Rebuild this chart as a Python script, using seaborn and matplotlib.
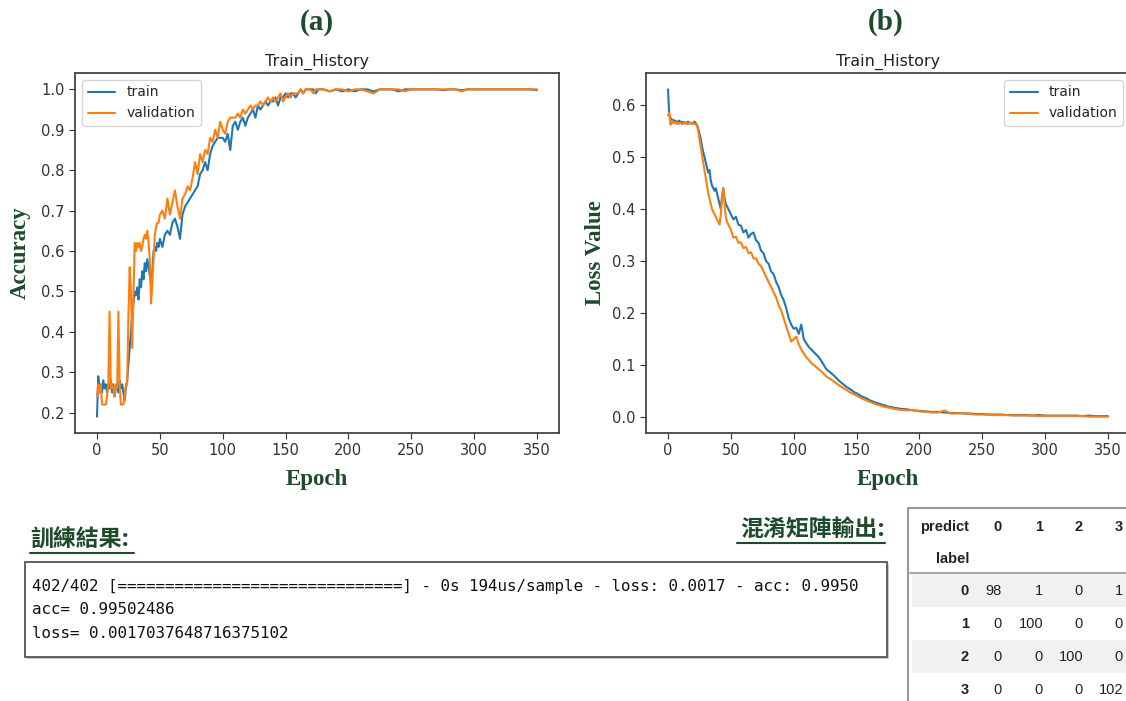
import matplotlib
matplotlib.use("Agg")
import matplotlib.pyplot as plt
import seaborn as sns
from matplotlib.patches import Rectangle
from matplotlib.lines import Line2D

# epochs sampled: every epoch up to 49, every 2 up to 178, every 5 after
epochs = list(range(0, 50)) + list(range(50, 180, 2)) + list(range(180, 351, 5))

acc_train = [
    0.19, 0.29, 0.25, 0.27, 0.25, 0.28, 0.26, 0.27, 0.25, 0.27,
    0.26, 0.28, 0.25, 0.27, 0.24, 0.26, 0.27, 0.25, 0.28, 0.26,
    0.27, 0.25, 0.23, 0.26, 0.28, 0.32, 0.36, 0.40, 0.44, 0.47,
    0.50, 0.49, 0.51, 0.48, 0.53, 0.51, 0.55, 0.53, 0.57, 0.55,
    0.58, 0.56, 0.54, 0.52, 0.55, 0.60, 0.61, 0.60, 0.62, 0.61,
    # 50..178 step 2
    0.63, 0.61, 0.64, 0.65, 0.64, 0.67, 0.68, 0.66, 0.63, 0.69,
    0.71, 0.72, 0.73, 0.74, 0.75, 0.76, 0.79, 0.80, 0.82, 0.80,
    0.84, 0.86, 0.87, 0.88, 0.88, 0.88, 0.87, 0.89, 0.85, 0.91,
    0.92, 0.90, 0.92, 0.93, 0.91, 0.93, 0.94, 0.95, 0.93, 0.96,
    0.95, 0.96, 0.97, 0.96, 0.97, 0.97, 0.98, 0.96, 0.98, 0.98,
    0.99, 0.98, 0.99, 0.99, 0.98, 0.99, 1.00, 0.99, 1.00, 1.00,
    1.00, 1.00, 0.99, 1.00, 1.00,
    # 180..350 step 5
    1.00, 0.995, 1.00, 0.995, 1.00, 0.995, 1.00, 1.00, 0.995, 1.00,
    1.00, 1.00, 0.995, 1.00, 1.00, 1.00, 1.00, 1.00, 1.00, 0.998,
    1.00, 1.00, 0.998, 1.00, 1.00, 1.00, 1.00, 1.00, 1.00, 1.00,
    1.00, 1.00, 1.00, 1.00, 0.998,
]

acc_val = [
    0.24, 0.27, 0.25, 0.27, 0.22, 0.22, 0.22, 0.22, 0.24, 0.27,
    0.45, 0.26, 0.27, 0.26, 0.24, 0.27, 0.26, 0.45, 0.27, 0.22,
    0.22, 0.22, 0.24, 0.27, 0.27, 0.44, 0.56, 0.50, 0.36, 0.49,
    0.62, 0.60, 0.62, 0.61, 0.62, 0.60, 0.61, 0.63, 0.64, 0.63,
    0.65, 0.62, 0.58, 0.47, 0.52, 0.58, 0.64, 0.66, 0.67, 0.67,
    0.69, 0.70, 0.68, 0.73, 0.69, 0.72, 0.75, 0.71, 0.68, 0.73,
    0.74, 0.76, 0.75, 0.78, 0.82, 0.79, 0.84, 0.82, 0.85, 0.84,
    0.88, 0.87, 0.90, 0.88, 0.92, 0.90, 0.89, 0.92, 0.93, 0.93,
    0.93, 0.94, 0.93, 0.95, 0.94, 0.95, 0.96, 0.95, 0.96, 0.96,
    0.97, 0.96, 0.97, 0.98, 0.97, 0.98, 0.97, 0.98, 0.99, 0.97,
    0.98, 0.99, 0.98, 0.99, 0.99, 0.99, 1.00, 0.99, 1.00, 1.00,
    1.00, 0.99, 1.00, 1.00, 1.00,
    1.00, 0.995, 1.00, 1.00, 0.995, 1.00, 1.00, 0.995, 0.99, 1.00,
    1.00, 1.00, 1.00, 0.995, 1.00, 1.00, 1.00, 1.00, 1.00, 1.00,
    1.00, 1.00, 0.995, 1.00, 1.00, 1.00, 1.00, 1.00, 1.00, 1.00,
    1.00, 1.00, 1.00, 1.00, 1.00,
]

loss_train = [
    0.63, 0.58, 0.575, 0.57, 0.572, 0.568, 0.57, 0.566, 0.568, 0.57,
    0.566, 0.568, 0.565, 0.567, 0.565, 0.566, 0.568, 0.564, 0.566, 0.564,
    0.565, 0.568, 0.565, 0.562, 0.555, 0.545, 0.535, 0.52, 0.51, 0.50,
    0.49, 0.48, 0.47, 0.475, 0.455, 0.445, 0.44, 0.435, 0.44, 0.43,
    0.42, 0.41, 0.40, 0.425, 0.44, 0.42, 0.41, 0.405, 0.40, 0.395,
    0.39, 0.38, 0.385, 0.37, 0.368, 0.355, 0.36, 0.345, 0.352, 0.355,
    0.34, 0.335, 0.32, 0.315, 0.30, 0.295, 0.28, 0.275, 0.26, 0.25,
    0.235, 0.225, 0.21, 0.19, 0.178, 0.17, 0.172, 0.16, 0.178, 0.15,
    0.142, 0.135, 0.13, 0.125, 0.12, 0.115, 0.108, 0.10, 0.092, 0.088,
    0.084, 0.08, 0.075, 0.07, 0.066, 0.062, 0.058, 0.055, 0.052, 0.048,
    0.046, 0.043, 0.04, 0.038, 0.036, 0.033, 0.031, 0.029, 0.027, 0.026,
    0.024, 0.023, 0.021, 0.02, 0.019,
    0.018, 0.016, 0.015, 0.013, 0.012, 0.011, 0.01, 0.01, 0.009, 0.008,
    0.008, 0.007, 0.007, 0.006, 0.006, 0.005, 0.005, 0.005, 0.004, 0.004,
    0.004, 0.004, 0.003, 0.004, 0.003, 0.003, 0.003, 0.003, 0.003, 0.003,
    0.002, 0.003, 0.002, 0.002, 0.002,
]

loss_val = [
    0.58, 0.585, 0.562, 0.57, 0.565, 0.568, 0.564, 0.566, 0.563, 0.565,
    0.566, 0.563, 0.565, 0.564, 0.566, 0.563, 0.565, 0.564, 0.566, 0.563,
    0.565, 0.564, 0.563, 0.56, 0.55, 0.535, 0.52, 0.505, 0.49, 0.475,
    0.46, 0.445, 0.43, 0.42, 0.41, 0.40, 0.395, 0.39, 0.385, 0.38,
    0.375, 0.37, 0.39, 0.42, 0.44, 0.41, 0.385, 0.375, 0.37, 0.365,
    0.36, 0.345, 0.347, 0.335, 0.336, 0.325, 0.327, 0.315, 0.317, 0.305,
    0.305, 0.295, 0.29, 0.28, 0.27, 0.26, 0.25, 0.24, 0.23, 0.215,
    0.205, 0.19, 0.175, 0.16, 0.145, 0.15, 0.155, 0.14, 0.13, 0.122,
    0.115, 0.11, 0.104, 0.10, 0.096, 0.092, 0.088, 0.083, 0.078, 0.075,
    0.072, 0.068, 0.065, 0.061, 0.058, 0.055, 0.052, 0.049, 0.046, 0.044,
    0.041, 0.039, 0.036, 0.034, 0.032, 0.03, 0.028, 0.026, 0.024, 0.023,
    0.021, 0.02, 0.019, 0.018, 0.017,
    0.016, 0.014, 0.013, 0.014, 0.011, 0.010, 0.009, 0.009, 0.013, 0.007,
    0.007, 0.008, 0.006, 0.005, 0.005, 0.005, 0.004, 0.004, 0.004, 0.003,
    0.003, 0.003, 0.003, 0.002, 0.002, 0.002, 0.002, 0.002, 0.002, 0.002,
    0.002, 0.001, 0.001, 0.001, 0.001,
]

console_lines = [
    "402/402 [==============================] - 0s 194us/sample - loss: 0.0017 - acc: 0.9950",
    "acc= 0.99502486",
    "loss= 0.0017037648716375102",
]

cm_labels = ["0", "1", "2", "3"]
cm_values = [
    [98, 1, 0, 1],
    [0, 100, 0, 0],
    [0, 0, 100, 0],
    [0, 0, 0, 102],
]

GREEN = "#1d4b2c"
BLUE = "#1f77b4"
ORANGE = "#ff7f0e"

sns.set_style("ticks")
plt.rcParams["font.family"] = ["DejaVu Sans", "Noto Sans CJK TC"]

W, H = 1126, 701
fig = plt.figure(figsize=(W / 100, H / 100), dpi=100)


def fx(x):
    return x / W


def fy(y):
    return 1 - y / H


serif = dict(family="Liberation Serif", weight="bold", color=GREEN, fontsize=16.5)

ax_a = fig.add_axes([fx(75), fy(433), 484 / W, 360 / H])
ax_b = fig.add_axes([fx(646), fy(433), 484 / W, 360 / H])

sns.lineplot(x=epochs, y=acc_train, ax=ax_a, color=BLUE, lw=1.5, label="train")
sns.lineplot(x=epochs, y=acc_val, ax=ax_a, color=ORANGE, lw=1.5, label="validation")
sns.lineplot(x=epochs, y=loss_train, ax=ax_b, color=BLUE, lw=1.5, label="train")
sns.lineplot(x=epochs, y=loss_val, ax=ax_b, color=ORANGE, lw=1.5, label="validation")

for ax, ylab, loc, ylx in [(ax_a, "Accuracy", "upper left", -0.113),
                           (ax_b, "Loss Value", "upper right", -0.105)]:
    ax.set_xticks([0, 50, 100, 150, 200, 250, 300, 350])
    ax.tick_params(labelsize=10.5, colors="#333333", length=4)
    for s in ax.spines.values():
        s.set_color("#444444")
        s.set_linewidth(1.3)
    ax.set_title("Train_History", fontsize=11.5, color="#222222", pad=5)
    ax.set_ylabel(ylab, va="center", **serif)
    ax.yaxis.set_label_coords(ylx, 0.5)
    ax.set_xlabel("Epoch", va="center", **serif)
    ax.xaxis.set_label_coords(0.5, -0.13)
    ax.legend(loc=loc, fontsize=10, frameon=True, framealpha=0.8,
              edgecolor="#cccccc", handlelength=2.0)

fig.text(fx(317), fy(22), "(a)", ha="center", va="center",
         family="Liberation Serif", weight="bold", color=GREEN, fontsize=21)
fig.text(fx(886), fy(22), "(b)", ha="center", va="center",
         family="Liberation Serif", weight="bold", color=GREEN, fontsize=21)

# headings with underline
cjk = dict(family=["Noto Sans CJK TC", "DejaVu Sans"], weight="bold",
           color=GREEN, fontsize=16.5)
fig.text(fx(30), fy(540), "訓練結果:", ha="left", va="center", **cjk)
fig.add_artist(Line2D([fx(30), fx(134)], [fy(553), fy(553)],
                      transform=fig.transFigure, color=GREEN, lw=1.5))
fig.text(fx(885), fy(530), "混淆矩陣輸出:", ha="right", va="center", **cjk)
fig.add_artist(Line2D([fx(737), fx(885)], [fy(543), fy(543)],
                      transform=fig.transFigure, color=GREEN, lw=1.5))

# console output box
fig.add_artist(Rectangle((fx(27), fy(659)), 862 / W, 95 / H,
                         transform=fig.transFigure, facecolor="#c8c8c8",
                         edgecolor="none", zorder=1))
fig.add_artist(Rectangle((fx(25), fy(657)), 862 / W, 95 / H,
                         transform=fig.transFigure, facecolor="white",
                         edgecolor="#555555", lw=1.3, zorder=2))
for i, line in enumerate(console_lines):
    fig.text(fx(32), fy(586 + i * 24), line, ha="left", va="center",
             family="DejaVu Sans Mono", fontsize=11.4, color="#111111", zorder=3)

# confusion matrix table
row_y = [591, 624, 657, 690]
col_x = [1002, 1043, 1083, 1123]
for i in [0, 2]:
    fig.add_artist(Rectangle((fx(912), fy(row_y[i] + 16)), (W - 912) / W, 33 / H,
                             transform=fig.transFigure, facecolor="#f1f1f1",
                             edgecolor="none", zorder=1))
fig.add_artist(Line2D([fx(908), fx(W)], [fy(508), fy(508)],
                      transform=fig.transFigure, color="#999999", lw=1.5))
fig.add_artist(Line2D([fx(908), fx(908)], [fy(508), fy(H)],
                      transform=fig.transFigure, color="#999999", lw=1.5))
fig.add_artist(Line2D([fx(910), fx(W)], [fy(573), fy(573)],
                      transform=fig.transFigure, color="#aaaaaa", lw=1.5))

tbl = dict(family="Liberation Sans", fontsize=10.5, color="#222222", va="center")
fig.text(fx(969), fy(527), "predict", ha="right", weight="bold", **tbl)
fig.text(fx(969), fy(559), "label", ha="right", weight="bold", **tbl)
for j, lab in enumerate(cm_labels):
    fig.text(fx(col_x[j]), fy(527), lab, ha="right", weight="bold", **tbl)
for i, lab in enumerate(cm_labels):
    fig.text(fx(969), fy(row_y[i]), lab, ha="right", weight="bold", **tbl)
    for j, v in enumerate(cm_values[i]):
        fig.text(fx(col_x[j]), fy(row_y[i]), str(v), ha="right", **tbl)

fig.savefig("out.png", dpi=100)
